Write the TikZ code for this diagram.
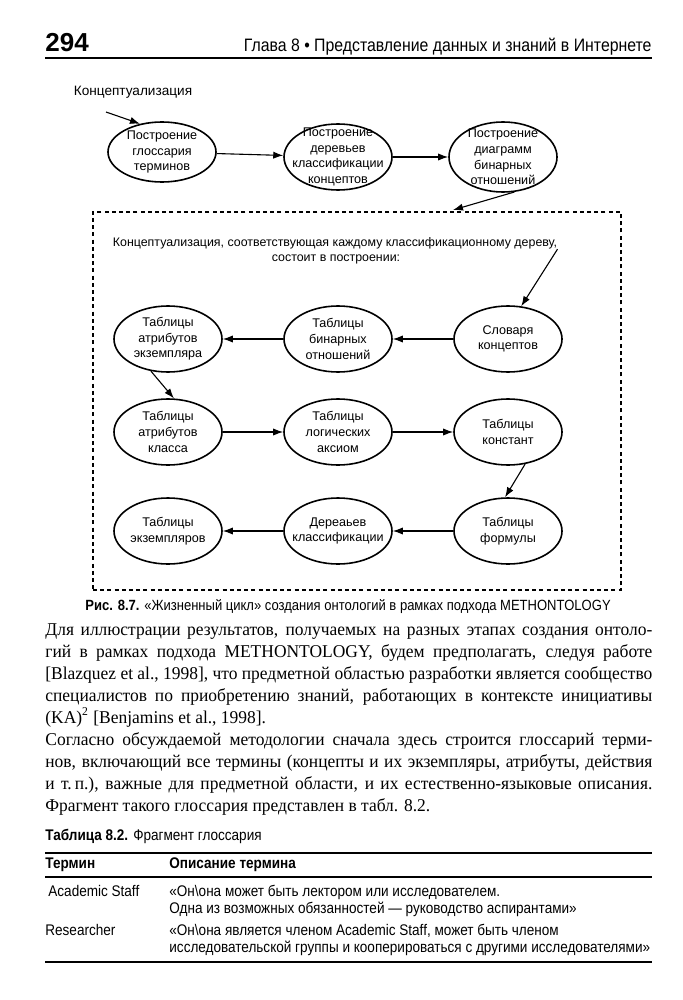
\documentclass[tikz,border=0pt]{standalone}
\usepackage{fontspec}
\setmainfont{Liberation Serif}
\setsansfont{Liberation Sans}
\newfontfamily\narrowsans[FakeStretch=0.88]{Liberation Sans}
\newfontfamily\bodyserif[FakeStretch=0.97]{Liberation Serif}
\usetikzlibrary{shapes.geometric, arrows.meta, positioning}

% one justified line of the body text
\newcommand{\bodyline}[1]{\makebox[303.5pt][s]{#1}}

\begin{document}
\begin{tikzpicture}[
    x=0.5pt, y=-0.5pt,
    every node/.style={inner sep=0pt},
    stage/.style={draw, ellipse, line width=0.8pt, minimum width=54pt, minimum height=33pt,
        inner xsep=-7pt, inner ysep=-8pt, align=center,
        font=\sffamily\fontsize{6.3}{7.8}\selectfont},
    arr/.style={-{Latex[length=5pt,width=3.6pt]}, line width=0.55pt},
    lbl/.style={font=\sffamily\fontsize{6.8}{7.8}\selectfont},
    body/.style={anchor=base west, font=\bodyserif\fontsize{9}{11}\selectfont},
    tab/.style={anchor=base west, font=\narrowsans\fontsize{7.7}{9}\selectfont},
    tabhead/.style={tab, font=\narrowsans\bfseries\fontsize{7.7}{9}\selectfont},
    rulebar/.style={line width=#1}
]
\useasboundingbox (0,0) rectangle (683,1000);
\fill[white] (0,0) rectangle (683,1000);

% running head
\node[anchor=base west, font=\sffamily\bfseries\fontsize{13}{15}\selectfont] (pagenum) at (45,52) {294};
\node[anchor=base east, font=\narrowsans\fontsize{9}{11}\selectfont] (runhead) at (652,52)
    {Глава 8 \textbullet\ Представление данных и знаний в Интернете};
\draw[rulebar=1pt] (45,58) -- (652,58);

% first cycle
\node[lbl] (concept) at (133,92) {Концептуализация};
\node[stage, minimum height=30pt] (gloss) at (162,152) {Построение\\глоссария\\терминов};
\node[stage] (trees) at (338,157) {Построение\\деревьев\\классификации\\концептов};
\node[stage, minimum height=35pt] (diag) at (503,157) {Построение\\диаграмм\\бинарных\\отношений};
\coordinate (cstart) at (106,112);
\draw[arr] (cstart) -- (gloss.128);
\draw[arr] (gloss) -- (trees);
\draw[arr] (trees) -- (diag);

% conceptualisation of each tree
\node[draw, dashed, dash pattern=on 2pt off 1.6pt, line width=0.6pt,
    minimum width=264pt, minimum height=189pt] (frame) at (357,401) {};
\coordinate (frametop) at (453,210);
\draw[arr] (diag.-72) -- (frametop);
\node[lbl, font=\sffamily\fontsize{6.2}{7.3}\selectfont] (head1) at (335,243)
    {Концептуализация, соответствующая каждому классификационному дереву,};
\node[lbl, font=\sffamily\fontsize{6.2}{7.3}\selectfont] (head2) at (336,259) {состоит в построении:};

\node[stage] (instattr) at (168,339) {Таблицы\\атрибутов\\экземпляра};
\node[stage] (binrel) at (338,339) {Таблицы\\бинарных\\отношений};
\node[stage] (dict) at (508,339) {Словаря\\концептов};
\node[stage] (classattr) at (168,432) {Таблицы\\атрибутов\\класса};
\node[stage] (axioms) at (338,432) {Таблицы\\логических\\аксиом};
\node[stage] (consts) at (508,432) {Таблицы\\констант};
\node[stage] (instances) at (168,531) {Таблицы\\экземпляров};
\node[stage] (ctrees) at (338,531) {Дереаьев\\классификации};
\node[stage] (formulas) at (508,531) {Таблицы\\формулы};

\draw[arr] (head1.south east) -- (dict.68);
\draw[arr] (dict) -- (binrel);
\draw[arr] (binrel) -- (instattr);
\draw[arr] (instattr.-118) -- (classattr.80);
\draw[arr] (classattr) -- (axioms);
\draw[arr] (axioms) -- (consts);
\draw[arr] (consts.-62) -- (formulas.95);
\draw[arr] (formulas) -- (ctrees);
\draw[arr] (ctrees) -- (instances);

% caption
\node[anchor=base west, font=\narrowsans\fontsize{7.4}{9}\selectfont] (caption) at (85,610)
    {\textbf{Рис. 8.7.} «Жизненный цикл» создания онтологий в рамках подхода METHONTOLOGY};

% body text
\node[body] (p1a) at (45,635) {\bodyline{Для иллюстрации результатов, получаемых на разных этапах создания онтоло-}};
\node[body] (p1b) at (45,657) {\bodyline{гий в рамках подхода METHONTOLOGY, будем предполагать, следуя работе}};
\node[body] (p1c) at (45,679) {\bodyline{[Blazquez et al., 1998], что предметной областью разработки является сообщество}};
\node[body] (p1d) at (45,701) {\bodyline{специалистов по приобретению знаний, работающих в контексте инициативы}};
\node[body] (p1e) at (45,723) {(KA)\textsuperscript{2} [Benjamins et al., 1998].};
\node[body] (p2a) at (45,745) {\bodyline{Согласно обсуждаемой методологии сначала здесь строится глоссарий терми-}};
\node[body] (p2b) at (45,767) {\bodyline{нов, включающий все термины (концепты и их экземпляры, атрибуты, действия}};
\node[body] (p2c) at (45,789) {\bodyline{и т.\,п.), важные для предметной области, и их естественно-языковые описания.}};
\node[body] (p2d) at (45,811) {Фрагмент такого глоссария представлен в табл. 8.2.};

% glossary table
\node[tab] (tabtitle) at (45,840) {\textbf{Таблица 8.2.} Фрагмент глоссария};
\draw[rulebar=0.9pt] (45,853) -- (652,853);
\node[tabhead] (colterm) at (45,868) {Термин};
\node[tabhead] (coldesc) at (169,868) {Описание термина};
\draw[rulebar=0.6pt] (45,877) -- (652,877);
\node[tab] (staff) at (48,896) {Academic Staff};
\node[tab] (staffa) at (169,896) {«Он\textbackslash она может быть лектором или исследователем.};
\node[tab] (staffb) at (169,913) {Одна из возможных обязанностей — руководство аспирантами»};
\node[tab] (res) at (45,935) {Researcher};
\node[tab] (resa) at (169,935) {«Он\textbackslash она является членом Academic Staff, может быть членом};
\node[tab] (resb) at (169,952) {исследовательской группы и кооперироваться с другими исследователями»};
\draw[rulebar=0.8pt] (45,962) -- (652,962);

\end{tikzpicture}
\end{document}
